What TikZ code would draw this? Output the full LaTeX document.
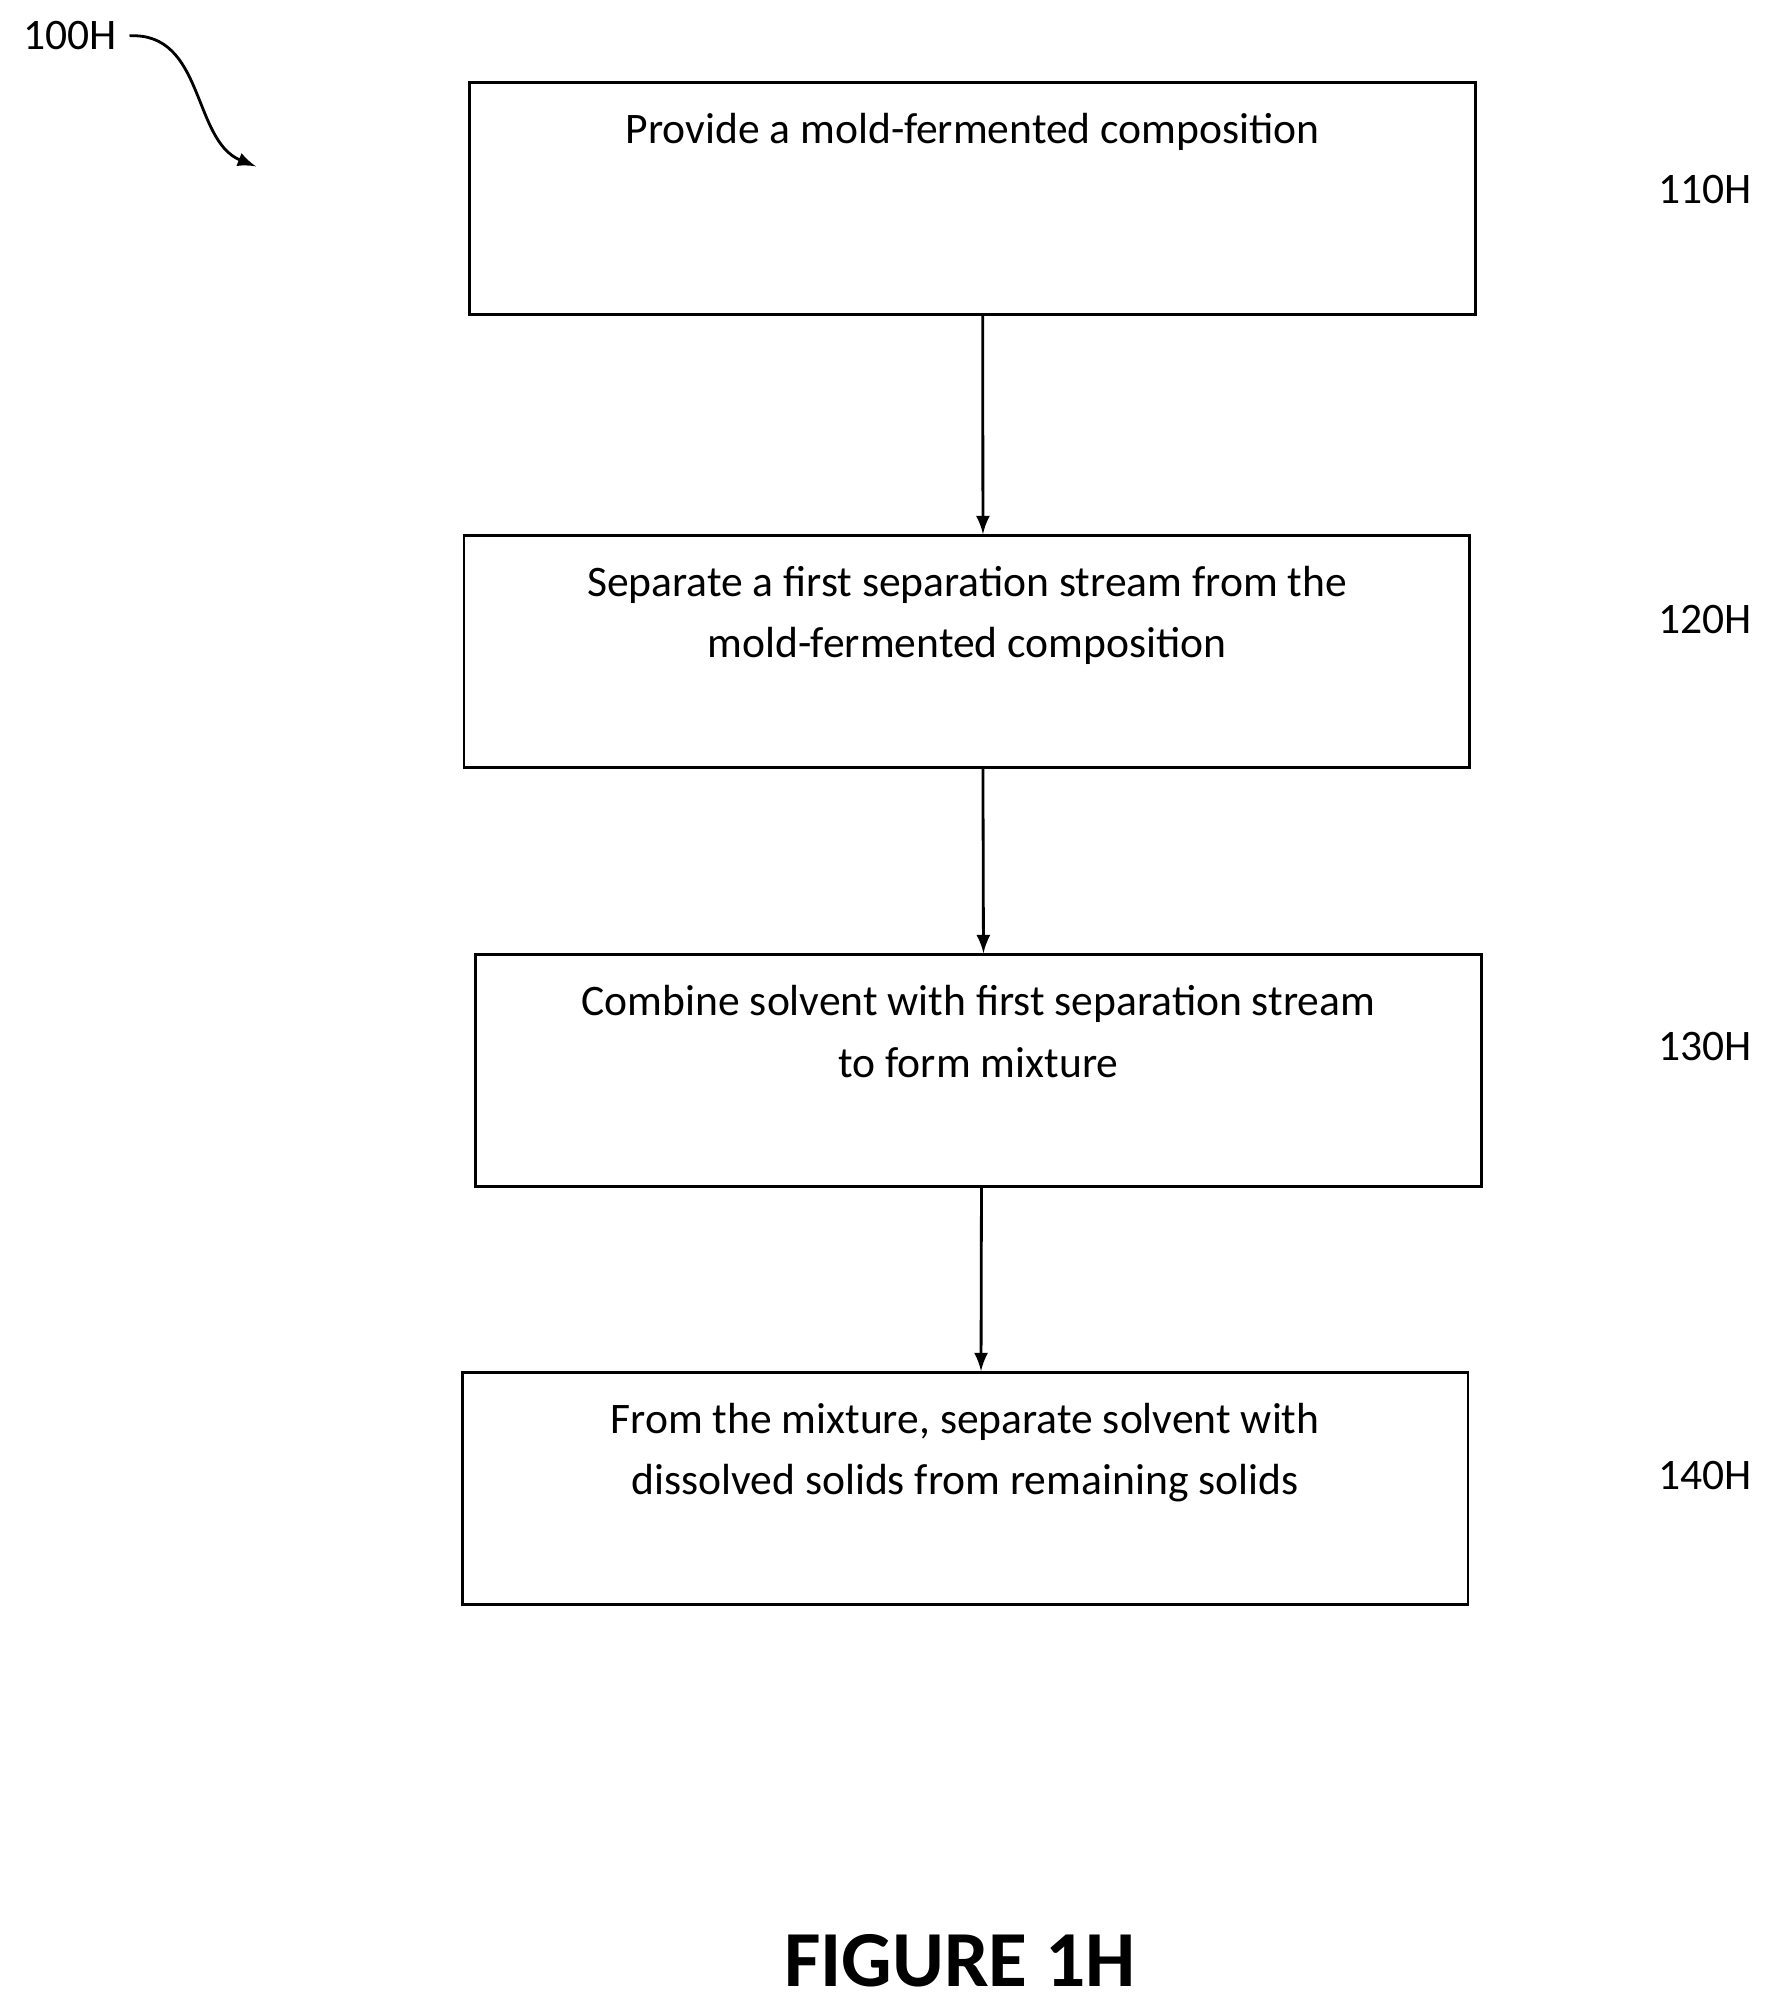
\documentclass[tikz,border=0pt]{standalone}
\usepackage{fontspec}
\setmainfont{Carlito}
\usetikzlibrary{positioning}

\tikzset{
  stepbox/.style={draw, thick, minimum width=10.06cm, minimum height=2.32cm},
  steptext/.style={anchor=north, align=center, font=\fontsize{12.4}{17.4}\selectfont},
  reflabel/.style={font=\fontsize{12.4}{15}\selectfont},
  flow/.style={-latex, thick}
}

\begin{document}
\begin{tikzpicture}[x=0.0128cm, y=-0.0128cm]
    \useasboundingbox (0,0) rectangle (1385,1565);

    % Steps
    \node[stepbox] (s110) at (760,155) {};
    \node[stepbox] (s120) at (755.5,509) {};
    \node[stepbox] (s130) at (764.5,836.5) {};
    \node[stepbox] (s140) at (754,1163) {};

    \node[steptext, below=0.2cm of s110.north] (t110) {Provide a mold-fermented composition};
    \node[steptext, below=0.2cm of s120.north] (t120) {Separate a first separation stream from the\\mold-fermented composition};
    \node[steptext, below=0.2cm of s130.north] (t130) {Combine solvent with first separation stream\\to form mixture};
    \node[steptext, below=0.2cm of s140.north] (t140) {From the mixture, separate solvent with\\dissolved solids from remaining solids};

    % Reference numerals
    \node[reflabel] (l110) at (1332,148) {110H};
    \node[reflabel] (l120) at (1332,484) {120H};
    \node[reflabel] (l130) at (1332,818) {130H};
    \node[reflabel] (l140) at (1332,1153) {140H};
    \node[reflabel] (l100) at (55,28) {100H};
    \coordinate (c100) at (200,130);

    % Connectors
    \draw[flow] ([xshift=0.1cm]s110.south) -- ([xshift=0.16cm]s120.north);
    \draw[flow] ([xshift=0.16cm]s120.south) -- ([xshift=0.05cm]s130.north);
    \draw[flow] ([xshift=0.03cm]s130.south) -- ([xshift=0.16cm]s140.north);
    \draw[-latex, thick] (l100.east) .. controls (160,25) and (150,110) .. (c100);

    \node[font=\fontsize{22.6}{26}\selectfont\bfseries] (fig) at (750,1532) {FIGURE 1H};
\end{tikzpicture}
\end{document}
